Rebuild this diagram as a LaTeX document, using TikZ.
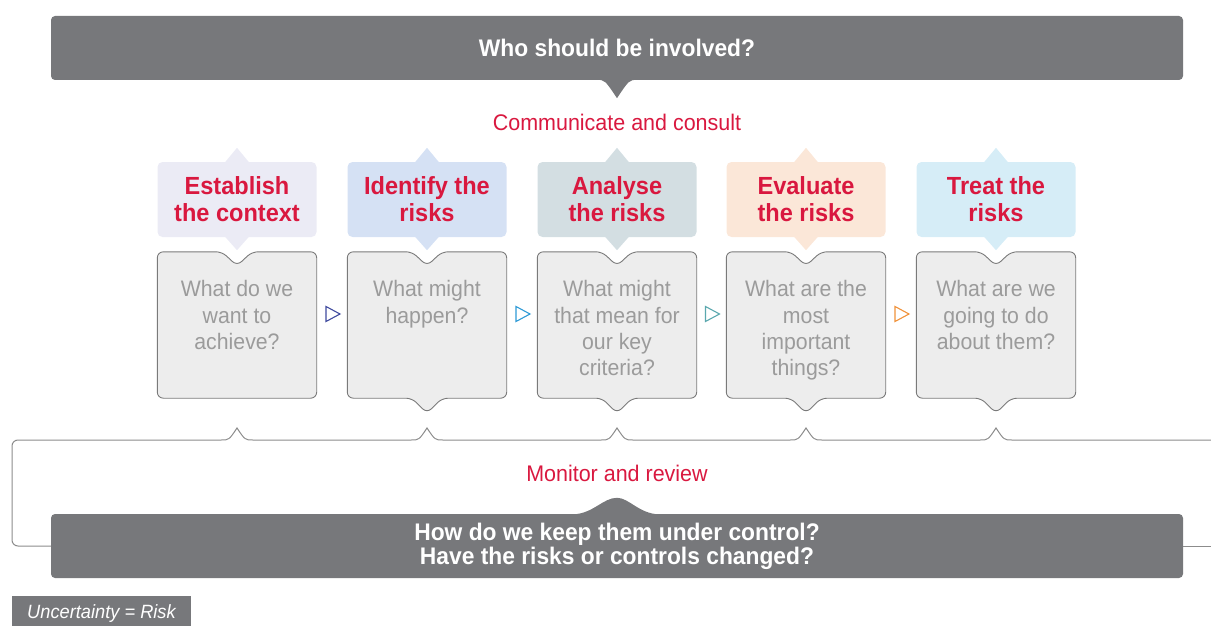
\documentclass[tikz,border=0pt]{standalone}
\usepackage{fontspec}
\setmainfont{Liberation Sans}[FakeStretch=0.95]
\usetikzlibrary{calc}
\definecolor{bannerc}{HTML}{77787B}
\definecolor{redc}{HTML}{D9183F}
\definecolor{qfill}{HTML}{EDEDED}
\definecolor{qframec}{HTML}{7A7A7A}
\definecolor{qtextc}{HTML}{9B9B9B}
\definecolor{loopc}{HTML}{8C8C8C}
\definecolor{hcA}{HTML}{EBEBF5}
\definecolor{hcB}{HTML}{D5E1F4}
\definecolor{hcC}{HTML}{D3DEE2}
\definecolor{hcD}{HTML}{FBE7D8}
\definecolor{hcE}{HTML}{D6EDF7}
\definecolor{arA}{HTML}{3F4A9E}
\definecolor{arB}{HTML}{2E9AD6}
\definecolor{arC}{HTML}{5BA8AE}
\definecolor{arD}{HTML}{F0923B}

\begin{document}
\begin{tikzpicture}[x=1pt, y=-1pt,
  banner/.style={fill=bannerc, rounded corners=4pt, minimum width=1132pt, minimum height=64pt,
    text=white, align=center, font=\fontsize{24}{24}\selectfont\bfseries},
  head/.style={rounded corners=5pt, minimum width=159pt, minimum height=75pt, inner sep=0pt,
    align=center, text=redc, font=\fontsize{24.8}{27}\selectfont\bfseries},
  qbox/.style={minimum width=159pt, minimum height=146pt, inner sep=0pt},
  qframe/.style={draw=qframec, line width=0.9pt, fill=qfill, rounded corners=6pt},
  qtxt/.style={anchor=north, inner sep=0pt, align=center, text=qtextc, font=\fontsize{22.4}{26.2}\selectfont},
  lbl/.style={text=redc, font=\fontsize{22.6}{26}\selectfont},
  loopline/.style={draw=loopc, line width=1pt},
  tri/.style={draw=#1, line width=1.1pt, line join=miter}]
\useasboundingbox (0,0) rectangle (1211,626);
% banners
\node[banner] (top) at (617,48) {Who should be involved?};
\fill[bannerc] ($(top.south)+(-20,-0.5)$) .. controls ($(top.south)+(-12,0)$) .. ($(top.south)+(0,18)$)
  .. controls ($(top.south)+(12,0)$) .. ($(top.south)+(20,-0.5)$) -- cycle;
\node[lbl] (comm) at (617,122) {Communicate and consult};
\node[banner] (bot) at (617,546) {How do we keep them under control?\\Have the risks or controls changed?};
\fill[bannerc] ($(bot.north)+(-44,0.5)$) .. controls ($(bot.north)+(-24,0)$) and ($(bot.north)+(-14,-16)$) .. ($(bot.north)+(0,-16)$)
  .. controls ($(bot.north)+(12,-16)$) and ($(bot.north)+(22,0)$) .. ($(bot.north)+(42,0.5)$) -- cycle;
\node[lbl] (mon) at (617,473) {Monitor and review};
% steps
\node[head, fill=hcA] (h1) at (237,199.5) {Establish\\the context};
\node[head, fill=hcB] (h2) at (427,199.5) {Identify the\\risks};
\node[head, fill=hcC] (h3) at (617,199.5) {Analyse\\the risks};
\node[head, fill=hcD] (h4) at (806,199.5) {Evaluate\\the risks};
\node[head, fill=hcE] (h5) at (996,199.5) {Treat the\\risks};
\foreach \i/\c/\d in {1/hcA/0,2/hcB/15,3/hcC/15,4/hcD/15,5/hcE/15}{
  \fill[\c] ($(h\i.north)+(-12,0.5)$) -- ($(h\i.north)+(0,-14)$) -- ($(h\i.north)+(12,0.5)$) -- cycle;
  \fill[\c] ($(h\i.south)+(-12,-0.5)$) -- ($(h\i.south)+(0,13)$) -- ($(h\i.south)+(12,-0.5)$) -- cycle;
  \node[qbox] (q\i) at ($(h\i)+(0,125.5)$) {};
  \draw[qframe] (q\i.north west) -- ($(q\i.north)+(-15,0)$) -- ($(q\i.north)+(0,14)$) -- ($(q\i.north)+(15,0)$)
    -- (q\i.north east) -- (q\i.south east) -- ($(q\i.south)+(15,0)$) -- ($(q\i.south)+(0,\d)$)
    -- ($(q\i.south)+(-15,0)$) -- (q\i.south west) -- cycle;
}
\node[qtxt] (t1) at ($(q1.north)+(0,28.7)$) {What do we\\want to\\achieve?};
\node[qtxt] (t2) at ($(q2.north)+(0,28.7)$) {What might\\happen?};
\node[qtxt] (t3) at ($(q3.north)+(0,28.7)$) {What might\\that mean for\\our key\\criteria?};
\node[qtxt] (t4) at ($(q4.north)+(0,28.7)$) {What are the\\most\\important\\things?};
\node[qtxt] (t5) at ($(q5.north)+(0,28.7)$) {What are we\\going to do\\about them?};
\foreach \i/\j/\c in {1/2/arA,2/3/arB,3/4/arC,4/5/arD}{
  \coordinate (m\i) at ($(q\i.east)!0.5!(q\j.west)+(0,-11)$);
  \draw[tri=\c] ($(m\i)+(-6,-7.5)$) -- ($(m\i)+(8,0)$) -- ($(m\i)+(-6,7.5)$) -- cycle;
}
% monitor loop
\draw[loopline] (bot.west) [rounded corners=6pt] -| (12,440) -- (200,440) [sharp corners]
  foreach \x in {237,427,617,806,996}{ -- (\x-16,440) .. controls (\x-8,440) .. (\x,428) .. controls (\x+8,440) .. (\x+16,440) }
  -- (1211,440);
\draw[loopline] (bot.east) -- (1211,546);
\node[fill=bannerc, minimum width=179pt, minimum height=36pt, inner sep=0pt, text=white,
  font=\fontsize{19.2}{22}\selectfont\itshape] (unc) at (101.5,614) {Uncertainty = Risk};
\end{tikzpicture}
\end{document}
